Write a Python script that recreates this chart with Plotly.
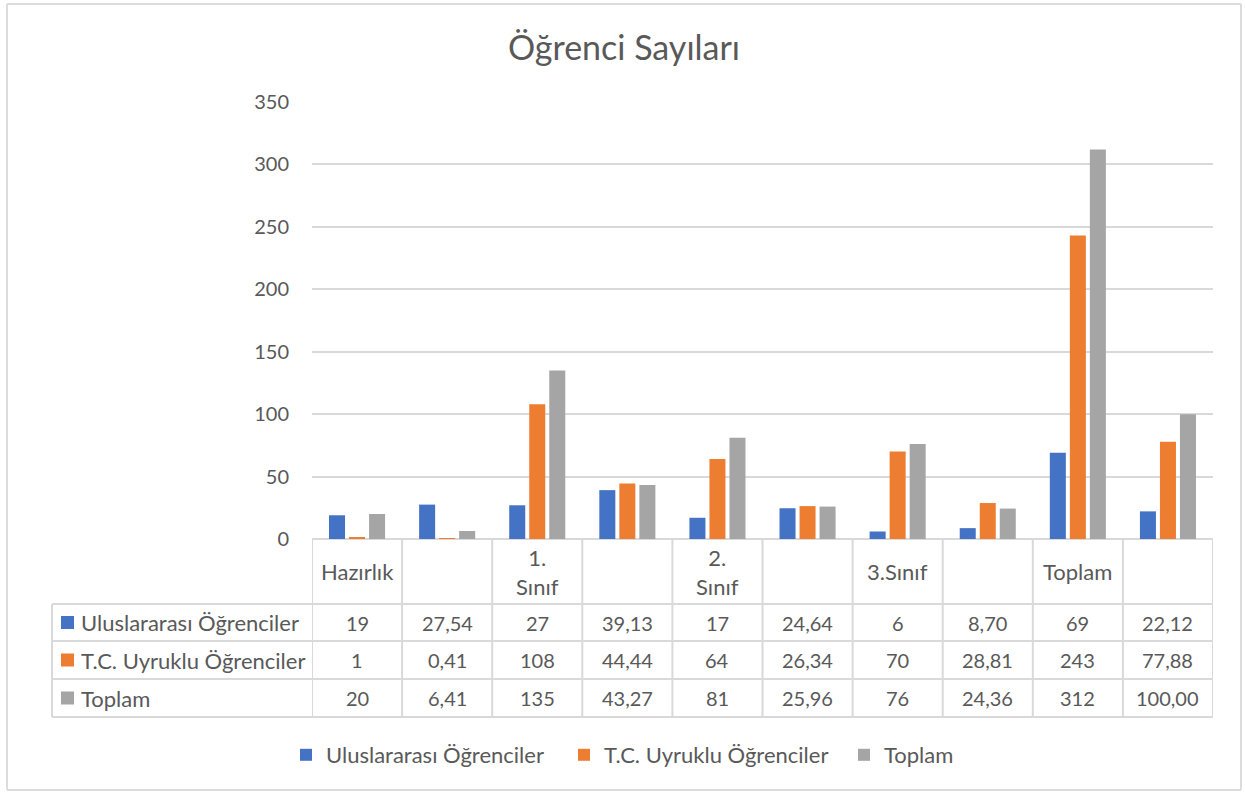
import plotly.graph_objects as go

# ---- data ----
categories = ["Hazırlık", "", "1.<br>Sınıf", "", "2.<br>Sınıf", "", "3.Sınıf", "", "Toplam", ""]
series_names = ["Uluslararası Öğrenciler", "T.C. Uyruklu Öğrenciler", "Toplam"]
uluslararasi = [19, 27.54, 27, 39.13, 17, 24.64, 6, 8.70, 69, 22.12]
tc_uyruklu = [1, 0.41, 108, 44.44, 64, 26.34, 70, 28.81, 243, 77.88]
toplam = [20, 6.41, 135, 43.27, 81, 25.96, 76, 24.36, 312, 100.00]
is_percent = [False, True, False, True, False, True, False, True, False, True]
colors = ["#4472C4", "#ED7D31", "#A5A5A5"]
y_ticks = [0, 50, 100, 150, 200, 250, 300, 350]

series = [uluslararasi, tc_uyruklu, toplam]

def fmt(v, pct):
    return f"{v:.2f}".replace(".", ",") if pct else f"{int(round(v))}"

FONT = "Lato"
TXT = "#595959"
GRID = "#D9D9D9"
FS_NUM = 20
FS_TXT = 22

W, H = 1245, 794
PX0, PX1, PY0, PY1 = 312, 1213, 102, 539   # plot area in pixels
L, R, T, B = PX0, W - PX1, PY0, H - PY1
PW, PH = PX1 - PX0, PY1 - PY0

def px(p):
    return (p - PX0) / PW

def py(p):
    return (PY1 - p) / PH

xs = list(range(len(categories)))
legend_ids = ["legend", "legend2", "legend3"]
legend_left = [286, 564, 844]

fig = go.Figure()
for name, vals, col, lid in zip(series_names, series, colors, legend_ids):
    fig.add_trace(go.Bar(x=xs, y=vals, name=name, marker_color=col,
                         marker_line_width=0, legend=lid, showlegend=True))

shapes = []
annotations = []

header_top, header_bot = PY1, 604
row_edges = [604, 641, 679, 717]
left_px = 52

line = dict(color=GRID, width=2)
for yy in row_edges:
    shapes.append(dict(type="line", xref="paper", yref="paper",
                       x0=px(left_px), x1=1, y0=py(yy), y1=py(yy), line=line))
for i in range(len(categories) + 1):
    shapes.append(dict(type="line", xref="x", yref="paper",
                       x0=i - 0.5, x1=i - 0.5, y0=py(header_top), y1=py(row_edges[-1]), line=line))
shapes.append(dict(type="line", xref="paper", yref="paper",
                   x0=px(left_px), x1=px(left_px), y0=py(row_edges[0]), y1=py(row_edges[-1]), line=line))

for i, c in enumerate(categories):
    if c:
        annotations.append(dict(x=i, xref="x", y=py((header_top + header_bot) / 2), yref="paper",
                                text=c, showarrow=False, xanchor="center", yanchor="middle",
                                font=dict(family=FONT, size=FS_TXT, color=TXT)))

for r, (name, vals, col) in enumerate(zip(series_names, series, colors)):
    yc = (row_edges[r] + row_edges[r + 1]) / 2
    shapes.append(dict(type="rect", xref="paper", yref="paper",
                       x0=px(61), x1=px(74), y0=py(yc + 6.5), y1=py(yc - 6.5),
                       fillcolor=col, line=dict(width=0)))
    annotations.append(dict(x=px(79), xref="paper", y=py(yc), yref="paper", text=name,
                            showarrow=False, xanchor="left", yanchor="middle",
                            font=dict(family=FONT, size=FS_TXT, color=TXT)))
    for i, v in enumerate(vals):
        annotations.append(dict(x=i, xref="x", y=py(yc), yref="paper", text=fmt(v, is_percent[i]),
                                showarrow=False, xanchor="center", yanchor="middle",
                                font=dict(family=FONT, size=FS_NUM, color=TXT)))

# outer chart border
bx0, bx1, by0, by1 = 7, 1241, 4, 790
border = dict(color="#DCDCDC", width=2)
for (xa, ya, xb, yb) in [(bx0, by0, bx1, by0), (bx0, by1, bx1, by1),
                         (bx0, by0, bx0, by1), (bx1, by0, bx1, by1)]:
    shapes.append(dict(type="line", xref="paper", yref="paper",
                       x0=px(xa), y0=py(ya), x1=px(xb), y1=py(yb), line=border))

legend_style = dict(orientation="h", xref="container", xanchor="left",
                    yref="container", y=1 - 755 / H, yanchor="middle",
                    font=dict(family=FONT, size=FS_TXT, color=TXT), itemwidth=30,
                    bgcolor="rgba(0,0,0,0)", visible=True)
legends = {lid: dict(legend_style, x=lx / W) for lid, lx in zip(legend_ids, legend_left)}

fig.update_layout(
    width=W, height=H,
    showlegend=True,
    margin=dict(l=L, r=R, t=T, b=B, autoexpand=False),
    paper_bgcolor="white", plot_bgcolor="white",
    title=dict(text="Öğrenci Sayıları", x=624 / W, xref="container", xanchor="center",
               y=1 - 48 / H, yref="container", yanchor="middle",
               font=dict(family=FONT, size=34, color=TXT)),
    barmode="group", bargap=1 / 3, bargroupgap=0.2,
    xaxis=dict(range=[-0.5, len(categories) - 0.5], showticklabels=False, showgrid=False,
               zeroline=False, showline=False, fixedrange=True),
    yaxis=dict(range=[0, 350], tickvals=y_ticks, showgrid=True, gridcolor=GRID, gridwidth=1.5,
               zeroline=True, zerolinecolor=GRID, zerolinewidth=2, showline=False,
               ticks="", ticklabelstandoff=22,
               tickfont=dict(family=FONT, size=FS_NUM, color=TXT)),
    shapes=shapes, annotations=annotations,
    font=dict(family=FONT, color=TXT),
    **legends,
)

fig.write_html("out.html", config={"displayModeBar": False},
               post_script="document.body.style.margin='0';document.body.style.overflow='hidden';")
